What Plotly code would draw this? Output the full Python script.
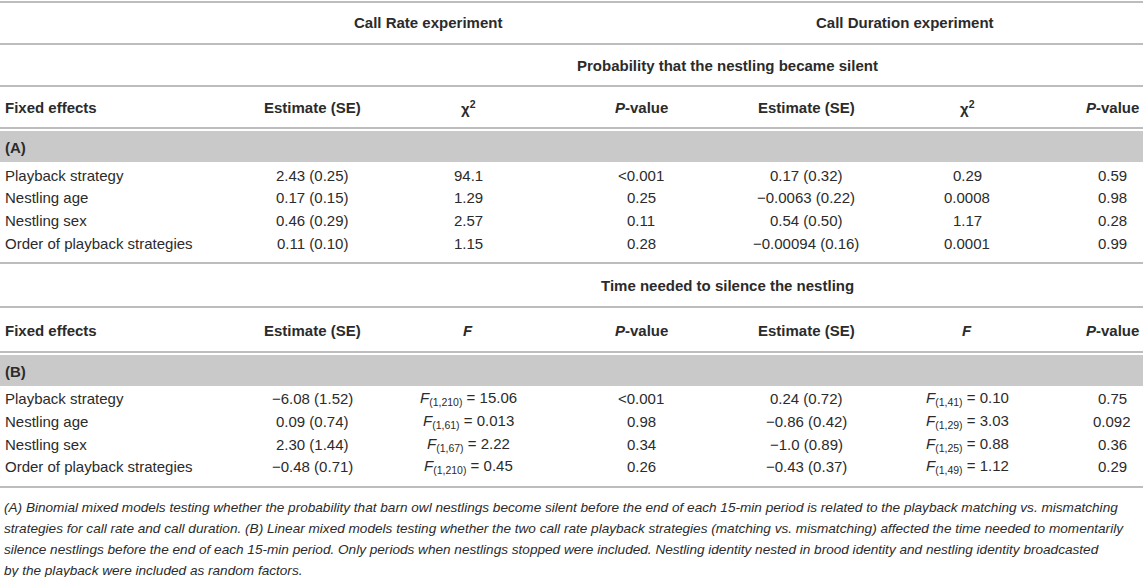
import plotly.graph_objects as go

W, H = 1143, 577

# ---------------- data ----------------
effects = ["Playback strategy", "Nestling age", "Nestling sex", "Order of playback strategies"]

a_cr_est = ["2.43 (0.25)", "0.17 (0.15)", "0.46 (0.29)", "0.11 (0.10)"]
a_cr_chi = ["94.1", "1.29", "2.57", "1.15"]
a_cr_p = ["&lt;0.001", "0.25", "0.11", "0.28"]
a_cd_est = ["0.17 (0.32)", "\u22120.0063 (0.22)", "0.54 (0.50)", "\u22120.00094 (0.16)"]
a_cd_chi = ["0.29", "0.0008", "1.17", "0.0001"]
a_cd_p = ["0.59", "0.98", "0.28", "0.99"]

b_cr_est = ["\u22126.08 (1.52)", "0.09 (0.74)", "2.30 (1.44)", "\u22120.48 (0.71)"]
b_cr_df = ["(1,210)", "(1,61)", "(1,67)", "(1,210)"]
b_cr_f = ["15.06", "0.013", "2.22", "0.45"]
b_cr_p = ["&lt;0.001", "0.98", "0.34", "0.26"]
b_cd_est = ["0.24 (0.72)", "\u22120.86 (0.42)", "\u22121.0 (0.89)", "\u22120.43 (0.37)"]
b_cd_df = ["(1,41)", "(1,29)", "(1,25)", "(1,49)"]
b_cd_f = ["0.10", "3.03", "0.88", "1.12"]
b_cd_p = ["0.75", "0.092", "0.36", "0.29"]

experiments = ["Call Rate experiment", "Call Duration experiment"]
section_titles = ["Probability that the nestling became silent", "Time needed to silence the nestling"]
section_labels = ["(A)", "(B)"]
headers_a = ["Fixed effects", "Estimate (SE)", "\u03c7<sup>2</sup>", "<i>P</i>-value",
             "Estimate (SE)", "\u03c7<sup>2</sup>", "<i>P</i>-value"]
headers_b = ["Fixed effects", "Estimate (SE)", "<i>F</i>", "<i>P</i>-value",
             "Estimate (SE)", "<i>F</i>", "<i>P</i>-value"]

footnote_lines = [
    "(A) Binomial mixed models testing whether the probability that barn owl nestlings become silent before the end of each 15-min period is related to the playback matching vs. mismatching",
    "strategies for call rate and call duration. (B) Linear mixed models testing whether the two call rate playback strategies (matching vs. mismatching) affected the time needed to momentarily",
    "silence nestlings before the end of each 15-min period. Only periods when nestlings stopped were included. Nestling identity nested in brood identity and nestling identity broadcasted",
    "by the playback were included as random factors.",
]

# ---------------- layout constants ----------------
TXT = "#2b2b2b"
LINE = "#bdbdbd"
BAND = "#c9c9c9"
FONT = "Liberation Sans, Arial, sans-serif"
FS = 15
col_x = [3, 312, 468, 641, 806, 967, 1112]
exp_x = [428, 905]

# vertical positions of each section: title, line, header, line, band, rows, bottom line
sec_y = [
    dict(title=65, l1=86, head=107, l2=128, rows=[175, 197.5, 220, 243], l3=263),
    dict(title=285, l1=307, head=330, l2=352, rows=[398, 421, 444, 466], l3=487),
]
foot_y = [507, 528.5, 549.5, 570]

fig = go.Figure()
ann = []
shapes = []

def hline(y):
    shapes.append(dict(type="line", xref="x", yref="y", x0=0, x1=W, y0=y, y1=y,
                       line=dict(color=LINE, width=2)))

def text(x, y, s, bold=False, anchor="center", size=FS, style="normal"):
    ann.append(dict(x=x, y=y, xref="x", yref="y", text=s, showarrow=False,
                    xanchor=anchor, yanchor="middle",
                    font=dict(family=FONT, size=size, color=TXT, style=style,
                              weight="bold" if bold else "normal")))

# top header
hline(2)
for x, s in zip(exp_x, experiments):
    text(x, 22, s, bold=True)
hline(44)

def section(ys, title, label, headers, est1, mid1, p1, est2, mid2, p2):
    text(727, ys["title"], title, bold=True)
    hline(ys["l1"])
    for i, h in enumerate(headers):
        text(col_x[i], ys["head"], h, bold=True, anchor="left" if i == 0 else "center")
    yl = ys["l2"]
    hline(yl)
    shapes.append(dict(type="rect", xref="x", yref="y", x0=0, x1=W, y0=yl + 3, y1=yl + 34,
                       fillcolor=BAND, line=dict(width=0), layer="below"))
    text(col_x[0], yl + 19, label, bold=True, anchor="left")
    for k, y in enumerate(ys["rows"]):
        text(col_x[0], y, effects[k], anchor="left")
        text(col_x[1], y, est1[k])
        text(col_x[2], y, mid1[k])
        text(col_x[3], y, p1[k])
        text(col_x[4], y, est2[k])
        text(col_x[5], y, mid2[k])
        text(col_x[6], y, p2[k])
    hline(ys["l3"])

f_cr = ["<i>F</i><sub>%s</sub> = %s" % (d, v) for d, v in zip(b_cr_df, b_cr_f)]
f_cd = ["<i>F</i><sub>%s</sub> = %s" % (d, v) for d, v in zip(b_cd_df, b_cd_f)]

section(sec_y[0], section_titles[0], section_labels[0], headers_a,
        a_cr_est, a_cr_chi, a_cr_p, a_cd_est, a_cd_chi, a_cd_p)
section(sec_y[1], section_titles[1], section_labels[1], headers_b,
        b_cr_est, f_cr, b_cr_p, b_cd_est, f_cd, b_cd_p)

for y, line in zip(foot_y, footnote_lines):
    text(2, y, line, anchor="left", size=13.6, style="italic")

fig.update_layout(
    width=W, height=H,
    margin=dict(l=0, r=0, t=0, b=0),
    paper_bgcolor="white", plot_bgcolor="white",
    xaxis=dict(range=[0, W], visible=False, fixedrange=True),
    yaxis=dict(range=[H, 0], visible=False, fixedrange=True),
    annotations=ann, shapes=shapes, showlegend=False,
)
fig.write_html("out.html", config={"displayModeBar": False},
               post_script="document.body.style.margin='0';document.body.style.overflow='hidden';")
